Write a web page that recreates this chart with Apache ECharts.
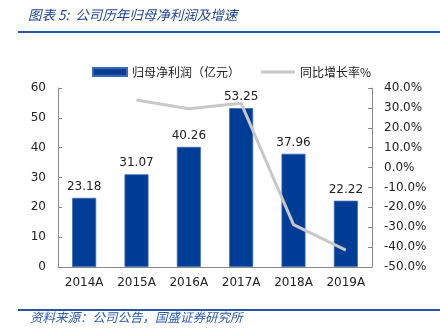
<!DOCTYPE html>
<html>
<head>
<meta charset="utf-8">
<script src="https://cdn.jsdelivr.net/npm/echarts@6/dist/echarts.min.js"></script>
<style>
html,body{margin:0;padding:0;background:#fff;}
#chart{width:440px;height:335px;}
</style>
</head>
<body>
<div id="chart"></div>
<script>
const categories = ['2014A','2015A','2016A','2017A','2018A','2019A'];
const netProfit = [23.18, 31.07, 40.26, 53.25, 37.96, 22.22];
const growthRate = [null, 34.0, 29.6, 32.3, -28.7, -41.5];
const leftTicks = {min: 0, max: 60, interval: 10};
const rightTicks = {min: -50, max: 40, interval: 10};
const seriesNames = ['归母净利润（亿元）', '同比增长率%'];
const titleText = '图表 5:  公司历年归母净利润及增速';
const sourceText = '资料来源：公司公告，国盛证券研究所';

const chart = echarts.init(document.getElementById('chart'), null, {renderer: 'canvas'});
const numFont = 'DejaVu Sans';
const cjkFont = '"Noto Sans CJK SC"';

chart.setOption({
  animation: false,
  backgroundColor: '#fff',
  graphic: [
    {type: 'text', left: 28, top: 8, style: {text: titleText, fill: '#1F4592', font: 'italic 13.5px ' + cjkFont}},
    {type: 'line', shape: {x1: 18, y1: 32, x2: 440, y2: 32}, style: {stroke: '#2855A6', lineWidth: 2}},
    {type: 'line', shape: {x1: 18, y1: 310, x2: 440, y2: 310}, style: {stroke: '#2855A6', lineWidth: 2}},
    {type: 'text', left: 30, top: 311, style: {text: sourceText, fill: '#2E5BA8', font: 'italic 12.5px ' + cjkFont}}
  ],
  legend: {
    left: 87, top: 61,
    itemWidth: 34, itemHeight: 8, itemGap: 21,
    textStyle: {fontFamily: cjkFont, fontSize: 12, color: '#222'},
    data: [
      {name: seriesNames[0], icon: 'rect'},
      {name: seriesNames[1], icon: 'path://M0,0 H100 V9 H0 Z', itemStyle: {color: '#C8C8C8'}}
    ]
  },
  grid: {left: 58, right: 68, top: 88, bottom: 68},
  xAxis: {
    type: 'category', data: categories,
    axisLine: {lineStyle: {color: '#8a8a8a'}},
    axisTick: {inside: true, length: 4, lineStyle: {color: '#8a8a8a'}},
    axisLabel: {color: '#222', fontFamily: numFont, fontSize: 12, margin: 10}
  },
  yAxis: [
    {
      type: 'value', min: leftTicks.min, max: leftTicks.max, interval: leftTicks.interval,
      splitLine: {show: false},
      axisLine: {show: true, lineStyle: {color: '#8a8a8a'}},
      axisTick: {show: true, inside: true, length: 4, lineStyle: {color: '#8a8a8a'}},
      axisLabel: {color: '#222', fontFamily: numFont, fontSize: 12, margin: 12}
    },
    {
      type: 'value', min: rightTicks.min, max: rightTicks.max, interval: rightTicks.interval,
      position: 'right',
      splitLine: {show: false},
      axisLine: {show: true, lineStyle: {color: '#8a8a8a'}},
      axisTick: {show: true, inside: true, length: 4, lineStyle: {color: '#8a8a8a'}},
      axisLabel: {color: '#222', fontFamily: numFont, fontSize: 12, margin: 12,
        formatter: v => v.toFixed(1) + '%'}
    }
  ],
  series: [
    {
      name: seriesNames[0], type: 'bar', data: netProfit, barWidth: 24, yAxisIndex: 0,
      itemStyle: {color: '#003D96', borderColor: '#3B69B2', borderWidth: 0.8},
      label: {show: true, position: 'top', distance: 5, color: '#222', fontFamily: numFont, fontSize: 12,
        formatter: p => p.value.toFixed(2)}
    },
    {
      name: seriesNames[1], type: 'line', data: growthRate, yAxisIndex: 1,
      symbol: 'none', showSymbol: false, connectNulls: false,
      lineStyle: {color: '#C8C8C8', width: 3},
      itemStyle: {color: '#C8C8C8'},
      z: 5
    }
  ]
});
</script>
</body>
</html>
